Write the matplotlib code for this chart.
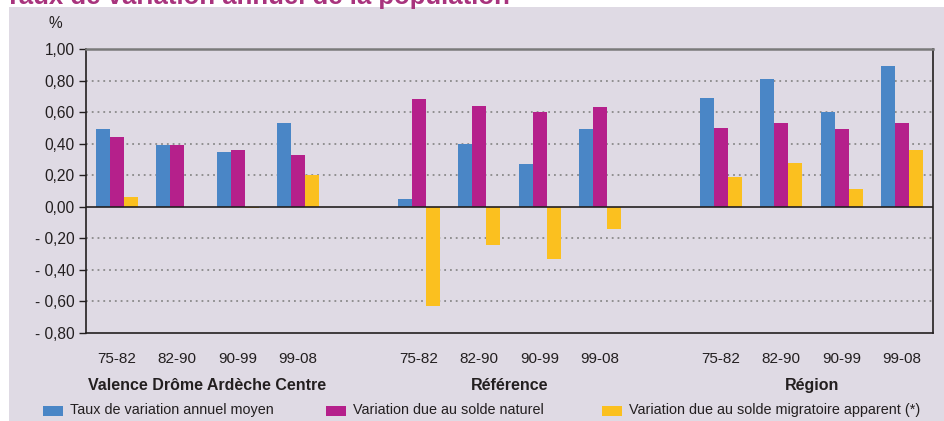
import matplotlib
matplotlib.use("Agg")
import matplotlib.pyplot as plt
from matplotlib.patches import Rectangle
import numpy as np

FONT = 'Liberation Sans'

# ---- data ----
periods = ["75-82", "82-90", "90-99", "99-08"]
zones = ["Valence Drôme Ardèche Centre", "Référence", "Région"]
series_names = ["Taux de variation annuel moyen",
                "Variation due au solde naturel",
                "Variation due au solde migratoire apparent (*)"]
taux = [0.49, 0.39, 0.35, 0.53,
        0.05, 0.40, 0.27, 0.49,
        0.69, 0.81, 0.60, 0.89]
naturel = [0.44, 0.39, 0.36, 0.33,
           0.68, 0.64, 0.60, 0.63,
           0.50, 0.53, 0.49, 0.53]
migratoire = [0.06, 0.00, -0.01, 0.20,
              -0.63, -0.24, -0.33, -0.14,
              0.19, 0.28, 0.11, 0.36]
yticks = [1.0, 0.8, 0.6, 0.4, 0.2, 0.0, -0.2, -0.4, -0.6, -0.8]
ytick_labels = ["1,00", "0,80", "0,60", "0,40", "0,20", "0,00",
                "- 0,20", "- 0,40", "- 0,60", "- 0,80"]

colors = ["#4A86C6", "#B5208B", "#FBC01F"]
BG = "#DFDAE4"
W, H = 945, 421

fig = plt.figure(figsize=(W / 100, H / 100), dpi=100)
fig.patch.set_facecolor("white")
bgrect = Rectangle((9 / W, 0), 1 - 9 / W, 1 - 7 / H,
                   transform=fig.transFigure, facecolor=BG,
                   edgecolor="none", zorder=-10)
fig.patches.append(bgrect)

ax = fig.add_axes([86 / W, 1 - 333 / H, (933 - 86) / W, (333 - 49) / H])
ax.set_zorder(5)
ax.set_facecolor(BG)

# slot positions: 4 per zone, one empty slot between zones
slots = []
for zi in range(len(zones)):
    for pi in range(len(periods)):
        slots.append(zi * (len(periods) + 1) + pi)
slots = np.array(slots, dtype=float)

bw = 0.231
for k, (vals, c) in enumerate(zip([taux, naturel, migratoire], colors)):
    ax.bar(slots + (k - 1) * bw, vals, width=bw, color=c, zorder=3,
           linewidth=0)

ax.set_xlim(-0.51, slots[-1] + 0.51)
ax.set_ylim(-0.8, 1.0)

for y in yticks:
    if y in (1.0, -0.8, 0.0):
        continue
    ax.axhline(y, color="#8a8a8a", lw=1.3, ls=(0, (1, 2.2)), zorder=1)
ax.axhline(0, color="#231f20", lw=1.2, zorder=4)

for s in ["left", "right", "bottom"]:
    ax.spines[s].set_color("#231f20")
    ax.spines[s].set_linewidth(1.2)
ax.spines["top"].set_color("#7a7a7a")
ax.spines["top"].set_linewidth(1.8)

ax.set_yticks(yticks)
ax.set_yticklabels(ytick_labels, family=FONT, fontsize=11.2, color="#231f20")
ax.tick_params(axis="y", direction="out", length=5, width=1, color="#231f20", pad=3)

ax.set_xticks(slots)
ax.set_xticklabels(periods * len(zones), family=FONT, fontsize=11,
                   color="#231f20")
ax.tick_params(axis="x", length=0, pad=14)

for zi, z in enumerate(zones):
    cx = slots[zi * 4: zi * 4 + 4].mean()
    ax.text(cx, -0.8 - 53 / 158, z, ha="center", va="center",
            family=FONT, fontsize=11.5, fontweight="bold", color="#231f20")

fig.text(55 / W, 1 - 23 / H, "%", ha="center", va="center",
         family=FONT, fontsize=11.2, color="#231f20")

fig.text(5 / W, 1 - 4 / H, "Taux de variation annuel de la population",
         ha="left", va="baseline", fontsize=18.5, fontweight="bold",
         family=FONT, color="#A8337D")

# legend
leg_x = [43, 326, 602]
for lx, c, name in zip(leg_x, colors, series_names):
    fig.patches.append(Rectangle((lx / W, 1 - 416 / H), 20 / W, 10 / H,
                                 transform=fig.transFigure, facecolor=c,
                                 edgecolor="none", zorder=2))
    fig.text((lx + 27) / W, 1 - 410 / H, name, ha="left", va="center",
             family=FONT, fontsize=10.4, color="#231f20")

fig.savefig("out.png", dpi=100, facecolor=fig.get_facecolor())
